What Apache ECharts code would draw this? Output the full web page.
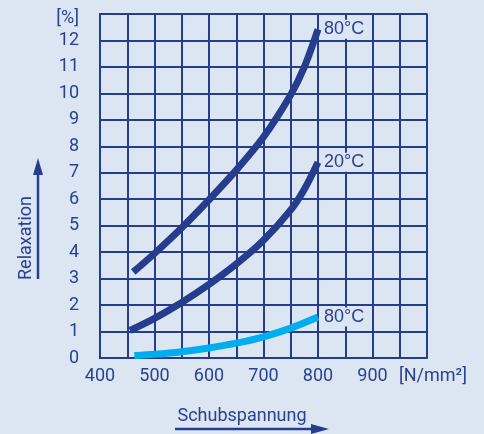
<!DOCTYPE html>
<html>
<head>
<meta charset="utf-8">
<script src="https://cdn.jsdelivr.net/npm/echarts@6/dist/echarts.min.js"></script>
<style>
html,body{margin:0;padding:0;background:#dce6f3;}
#c{width:484px;height:434px;}
</style>
</head>
<body>
<div id="c"></div>
<script>
// Data
const curve80Top = [[461,3.25],[500,3.95],[550,4.92],[600,5.98],[650,7.1],[700,8.35],[750,9.95],[775,11.0],[800,12.42]];
const curve20 = [[455,1.04],[500,1.5],[550,2.1],[600,2.78],[650,3.55],[700,4.45],[750,5.6],[775,6.38],[800,7.4]];
const curve80Low = [[463,0.09],[500,0.14],[550,0.24],[600,0.38],[650,0.56],[700,0.8],[750,1.13],[800,1.55]];
const seriesLabels = ['80°C','20°C','80°C'];
const xTickLabels = {400:'400',500:'500',600:'600',700:'700',800:'800',900:'900',1000:'[N/mm²]'};
const yTopLabel = '[%]';
const xTitle = 'Schubspannung';
const yTitle = 'Relaxation';

const BG = '#dce6f3';
const NAVY = '#263d8e';
const TXT = '#2b4190';
const CYAN = '#00adee';
const FONT = 'Roboto';

const chart = echarts.init(document.getElementById('c'));

function mkSeries(data, color, label){
  return {
    type:'line', data:data, smooth:0.3, symbol:'none',
    lineStyle:{color:color, width:7, cap:'butt'},
    endLabel:{show:true, formatter:label, color:TXT, fontFamily:'Liberation Sans', fontSize:18,
      backgroundColor:BG, padding:[1,2,0,2], distance:4},
    z:5
  };
}

chart.setOption({
  backgroundColor: BG,
  animation:false,
  grid:{left:100, right:57, top:14, bottom:76, show:true, borderColor:'#7d8fc6', borderWidth:2},
  xAxis:{
    type:'value', min:400, max:1000, interval:50,
    axisLine:{show:true, lineStyle:{color:NAVY, width:2}},
    axisTick:{show:false},
    splitLine:{show:true, lineStyle:{color:NAVY, width:2}},
    axisLabel:{
      color:TXT, fontFamily:FONT, fontSize:18, margin:9,
      formatter:function(v){
        if(v===1000) return '{u|'+xTickLabels[v]+'}';
        return xTickLabels[v] || '';
      },
      rich:{u:{color:TXT, fontFamily:FONT, fontSize:18, padding:[0,0,0,12]}}
    }
  },
  yAxis:{
    type:'value', min:0, max:13, interval:1,
    axisLine:{show:true, lineStyle:{color:NAVY, width:2}},
    axisTick:{show:false},
    splitLine:{show:true, lineStyle:{color:NAVY, width:2}},
    axisLabel:{
      color:TXT, fontFamily:FONT, fontSize:18, margin:21,
      formatter:function(v){
        if(v===13) return '{u|'+yTopLabel+'}';
        return String(v);
      },
      rich:{u:{color:TXT, fontFamily:FONT, fontSize:18, padding:[8,0,0,0]}}
    }
  },
  series:[
    mkSeries(curve80Top, NAVY, seriesLabels[0]),
    mkSeries(curve20, NAVY, seriesLabels[1]),
    mkSeries(curve80Low, CYAN, seriesLabels[2])
  ],
  graphic:[
    {type:'text', x:26, y:238, rotation:Math.PI/2,
      style:{text:yTitle, fill:TXT, font:'18px '+FONT, align:'center', verticalAlign:'middle'}},
    {type:'line', shape:{x1:38, y1:279, x2:38, y2:170}, style:{stroke:NAVY, lineWidth:2.5}},
    {type:'polygon', shape:{points:[[38,158],[33,175],[43,175]]}, style:{fill:NAVY}},
    {type:'text', x:242, y:416, style:{text:xTitle, fill:TXT, font:'18px '+FONT, align:'center', verticalAlign:'middle'}},
    {type:'line', shape:{x1:175, y1:429, x2:316, y2:429}, style:{stroke:NAVY, lineWidth:2.5}},
    {type:'polygon', shape:{points:[[329,429],[311,424],[311,434]]}, style:{fill:NAVY}}
  ]
});
</script>
</body>
</html>
